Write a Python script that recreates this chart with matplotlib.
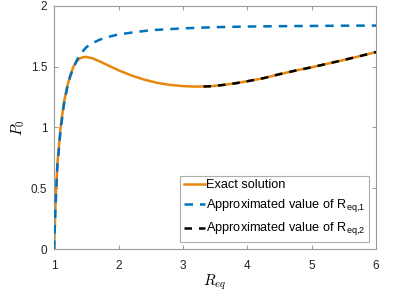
import matplotlib
matplotlib.use("Agg")
import matplotlib.pyplot as plt

plt.rcParams['font.family'] = ['Liberation Sans', 'DejaVu Sans']
plt.rcParams['mathtext.fontset'] = 'cm'

# Exact solution
x_exact = [1.00, 1.02, 1.05, 1.10, 1.15, 1.20, 1.25, 1.30, 1.35, 1.40, 1.45, 1.50,
           1.60, 1.70, 1.80, 1.90, 2.00, 2.20, 2.40, 2.60, 2.80, 3.00, 3.20, 3.40,
           3.60, 3.80, 4.00, 4.25, 4.50, 4.75, 5.00, 5.25, 5.50, 5.75, 6.00]
y_exact = [0.00, 0.35, 0.70, 1.00, 1.20, 1.33, 1.43, 1.50, 1.545, 1.568, 1.578, 1.58,
           1.568, 1.545, 1.52, 1.495, 1.47, 1.428, 1.393, 1.367, 1.35, 1.34, 1.336, 1.338,
           1.348, 1.362, 1.38, 1.405, 1.438, 1.468, 1.495, 1.525, 1.555, 1.587, 1.62]

# Approximated value of R_eq,1
x_app1 = [1.00, 1.02, 1.05, 1.10, 1.15, 1.20, 1.25, 1.30, 1.35, 1.40, 1.50, 1.60,
          1.70, 1.80, 2.00, 2.20, 2.50, 3.00, 3.50, 4.00, 4.50, 5.00, 5.50, 6.00]
y_app1 = [0.00, 0.33, 0.68, 0.98, 1.18, 1.32, 1.42, 1.49, 1.55, 1.60, 1.66, 1.695,
          1.72, 1.74, 1.765, 1.78, 1.80, 1.815, 1.825, 1.83, 1.833, 1.835, 1.837, 1.838]

# Approximated value of R_eq,2
x_app2 = [3.32, 3.40, 3.60, 3.80, 4.00, 4.25, 4.50, 4.75, 5.00, 5.25, 5.50, 5.75, 6.00]
y_app2 = [1.337, 1.338, 1.348, 1.362, 1.38, 1.405, 1.438, 1.468, 1.495, 1.525, 1.555, 1.587, 1.62]

x_ticks = [1, 2, 3, 4, 5, 6]
y_ticks = [0, 0.5, 1, 1.5, 2]
y_ticklabels = ["0", "0.5", "1", "1.5", "2"]

fig = plt.figure(figsize=(4.07, 2.94), dpi=100)
ax = fig.add_axes([0.133, 0.153, 0.791, 0.827])

ax.plot(x_exact, y_exact, color="#E8870E", lw=1.8, label="Exact solution", zorder=2)
ax.plot(x_app1, y_app1, color="#0072BD", lw=1.8, ls=(0, (3.4, 2.8)),
        label=r"Approximated value of R$_{\mathregular{eq{,}1}}$", zorder=3)
ax.plot(x_app2, y_app2, color="black", lw=1.8, ls=(0, (3.0, 2.8)),
        label=r"Approximated value of R$_{\mathregular{eq{,}2}}$", zorder=3)

ax.set_xlim(1, 6)
ax.set_ylim(0, 2)
ax.set_xticks(x_ticks)
ax.set_yticks(y_ticks)
ax.set_yticklabels(y_ticklabels)
ax.tick_params(direction="in", top=True, right=True, length=3, width=0.6,
               colors="#888888", labelcolor="#222222", labelsize=8.5)
ax.tick_params(axis="x", pad=8)
ax.tick_params(axis="y", pad=5)
for s in ax.spines.values():
    s.set_color("#999999")
    s.set_linewidth(0.8)

ax.set_xlabel(r"$R_{eq}$", fontsize=11, labelpad=0)
ax.set_ylabel(r"$P_0$", fontsize=11, labelpad=3)

leg = ax.legend(loc="lower right", fontsize=9.2, frameon=True, fancybox=False,
                handlelength=1.6, handletextpad=0.1, borderpad=0.3,
                labelspacing=0.5, borderaxespad=0.0,
                bbox_to_anchor=(0.978, 0.028))
leg.get_frame().set_edgecolor("#999999")
leg.get_frame().set_linewidth(0.8)

fig.savefig("out.png", dpi=100)
